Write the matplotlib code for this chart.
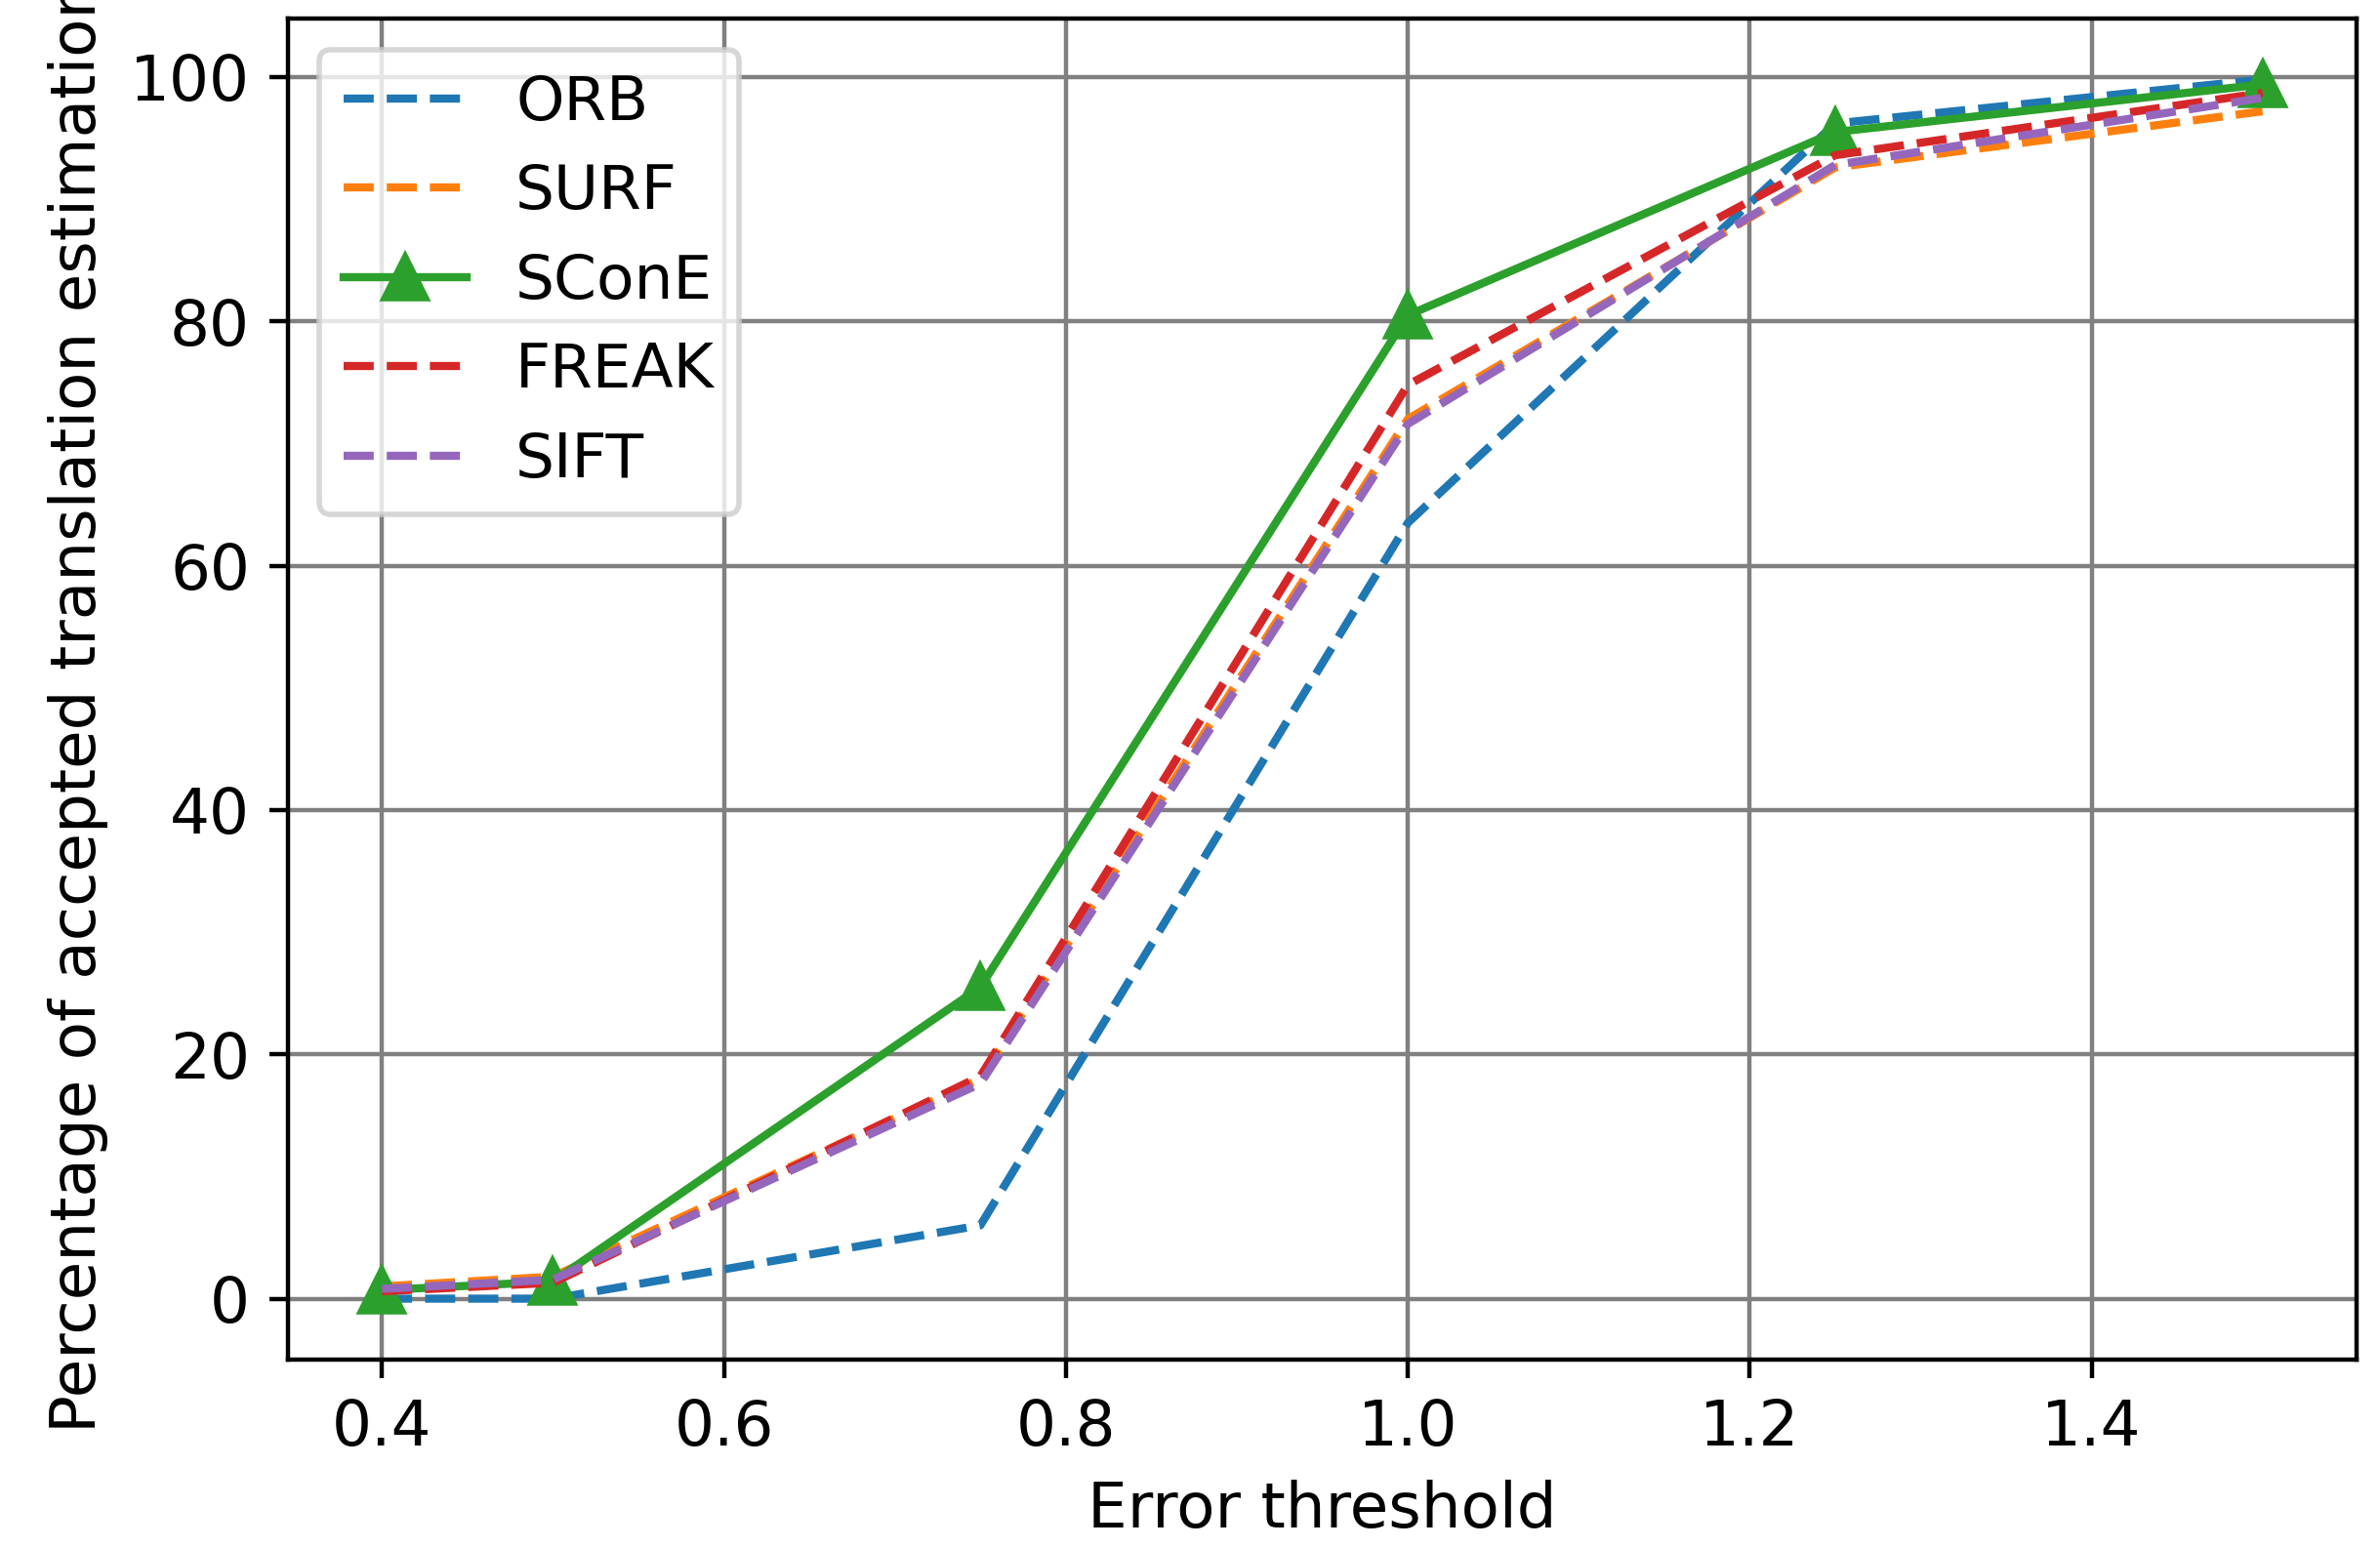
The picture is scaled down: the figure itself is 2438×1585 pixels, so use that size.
import matplotlib
matplotlib.use("Agg")
import matplotlib.pyplot as plt

# error thresholds and percentage of accepted estimations per descriptor
thresholds = [0.4, 0.5, 0.75, 1.0, 1.25, 1.5]
orb = [0.0, 0.0, 6.0, 63.5, 96.2, 99.8]
surf = [1.0, 1.8, 18.0, 72.0, 92.6, 97.2]
scone = [0.7, 1.4, 25.5, 80.5, 95.5, 99.4]
freak = [0.6, 1.3, 18.2, 74.8, 93.6, 98.7]
sift = [0.8, 1.55, 17.6, 71.6, 92.8, 98.3]

plt.rcParams["font.size"] = 11.6

fig = plt.figure(figsize=(2438 / 400, 1585 / 400), dpi=400)
ax = fig.add_axes([295 / 2438, 1 - 1393 / 1585, (2414 - 295) / 2438, (1393 - 19) / 1585])

ax.plot(thresholds, orb, "--", label="ORB")
ax.plot(thresholds, surf, "--", label="SURF")
ax.plot(thresholds, scone, "-^", markersize=8, label="SConE")
ax.plot(thresholds, freak, "--", label="FREAK")
ax.plot(thresholds, sift, "--", label="SIFT")

ax.grid(True, color="gray")
ax.set_xlabel("Error threshold")
# label is longer than the axes, so its top runs off the figure as in the original
ax.set_ylabel("Percentage of accepted translation estimations")
ax.legend(loc="upper left", fontsize=11.35)

fig.savefig("out.png", dpi=400)
